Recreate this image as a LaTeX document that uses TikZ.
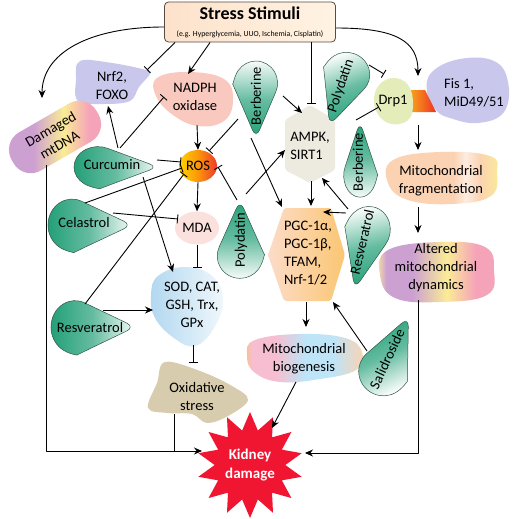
\documentclass[tikz,border=0pt]{standalone}
\usepackage{fontspec}
\setmainfont{Carlito}
\usetikzlibrary{arrows.meta,shapes.geometric,calc}

\definecolor{drug}{RGB}{36,160,120}
\definecolor{drugline}{RGB}{50,85,70}
\definecolor{lav}{RGB}{201,200,236}
\definecolor{salmon}{RGB}{249,201,191}
\definecolor{mdapink}{RGB}{251,225,222}
\definecolor{sodblue}{RGB}{178,216,240}
\definecolor{sodpale}{RGB}{240,247,252}
\definecolor{tan}{RGB}{216,204,174}
\definecolor{beige}{RGB}{237,234,224}
\definecolor{lime}{RGB}{228,237,186}
\definecolor{kidred}{RGB}{240,22,50}
\definecolor{peach}{RGB}{251,211,178}
\definecolor{fragband}{RGB}{253,236,224}
\definecolor{sunny}{RGB}{250,236,150}
\definecolor{plum}{RGB}{205,160,210}
\definecolor{rose}{RGB}{245,163,185}
\definecolor{sky}{RGB}{190,228,247}
\definecolor{blush}{RGB}{246,190,208}
\definecolor{bioedge}{RGB}{248,196,130}
\definecolor{pgcl}{RGB}{252,220,200}
\definecolor{pgcr}{RGB}{251,198,115}
\definecolor{rosy}{RGB}{255,212,0}
\definecolor{roso}{RGB}{252,150,10}
\definecolor{rosr}{RGB}{238,58,44}
\definecolor{wedgeo}{RGB}{248,165,27}
\definecolor{wedger}{RGB}{238,50,36}
\definecolor{stressl}{RGB}{253,226,203}
\definecolor{stressr}{RGB}{255,243,227}
\definecolor{stressline}{RGB}{90,75,66}

\pgfdeclarehorizontalshading{mixshade}{100bp}{color(0bp)=(sunny); color(25bp)=(sunny); color(29bp)=(plum); color(40bp)=(plum); color(54bp)=(sunny); color(66bp)=(rose); color(100bp)=(rose)}
\pgfdeclarehorizontalshading{fragshade}{100bp}{color(0bp)=(peach); color(25bp)=(peach); color(55bp)=(peach); color(60bp)=(fragband); color(66bp)=(peach); color(75bp)=(sunny); color(100bp)=(sunny)}
\pgfdeclarehorizontalshading{bioshade}{100bp}{color(0bp)=(bioedge); color(25bp)=(bioedge); color(28bp)=(blush); color(38bp)=(blush); color(50bp)=(sky); color(62bp)=(sky); color(75bp)=(peach); color(100bp)=(peach)}

\begin{document}
\begin{tikzpicture}[x=1pt, y=-1pt, line join=round,
  every node/.style={font=\fontsize{14.5}{18}\selectfont, align=center, inner sep=0pt},
  act/.style={-{Stealth[length=8pt, width=7pt]}, line width=0.9pt},
  inh/.style={-{Bar[width=9pt, line width=0.9pt]}, line width=0.9pt},
  drugfill/.style={draw=drugline, line width=0.5pt, left color=drug, right color=drug!4, middle color=drug!70},
  tear/.pic={\path[drugfill, shading angle=#1] (-38,0) arc (180:294.4:24) [rounded corners=9pt] -- (46,0) -- (-4.1,21.9) [sharp corners] arc (65.6:180:24) -- cycle;}]

\path[fill=white] (0,0) rectangle (512,519);
\useasboundingbox (0,0) rectangle (512,519);

% blobs
\fill[lav] plot[smooth cycle, tension=.6] coordinates {(80,61) (112,63) (146,70) (150,74) (139,87) (130,101) (104,104) (78,101) (76,80)};
\fill[salmon] plot[smooth cycle, tension=.7] coordinates {(157,78) (188,72) (224,79) (233,100) (224,121) (198,126) (173,115) (156,96)};
\shade[left color=sodblue, right color=sodpale] plot[smooth cycle, tension=.7] coordinates {(158,276) (185,267) (212,276) (223,300) (214,328) (195,346) (174,338) (155,318) (151,295)};
\fill[tan] plot[smooth cycle, tension=.6] coordinates {(165,362) (200,371) (232,386) (248,400) (228,416) (207,423) (192,414) (168,413) (148,408) (157,383)};
\shade[shading=bioshade] plot[smooth cycle, tension=.7] coordinates {(255,340) (300,334) (345,338) (362,352) (356,370) (320,379) (280,382) (254,372) (247,355)};
\fill[beige, rounded corners=2pt] (310,105) -- (335,120) -- (335,170) -- (310,183) -- (285,170) -- (285,120) -- cycle;
\shade[left color=pgcl, right color=pgcr, rounded corners=2pt] (284,208) -- (331,208) -- (345,255) -- (331,301) -- (284,301) -- (268,255) -- cycle;
\fill[lav] plot[smooth cycle, tension=.7] coordinates {(432,72) (460,59) (494,61) (508,82) (504,112) (478,123) (450,118) (436,110) (427,92)};
\shade[left color=wedgeo, right color=wedger] (410,90) -- (425,90) -- (436,112) -- (410,112) -- cycle;
\fill[lime] plot[smooth cycle, tension=.7] coordinates {(377,88) (392,78) (408,85) (413,105) (407,121) (388,123) (375,108)};
\shade[shading=fragshade] plot[smooth cycle, tension=.7] coordinates {(393,160) (440,152) (490,156) (497,172) (491,196) (452,204) (408,200) (388,183)};
\shade[shading=mixshade] plot[smooth cycle, tension=.7] coordinates {(388,250) (440,242) (485,247) (494,270) (487,295) (440,302) (395,298) (380,275)};

% drugs
\pic[yscale=.85] at (112,167) {tear=90};
\pic[yscale=1.08] at (86,225) {tear=90};
\pic[yscale=1.1] at (89,327) {tear=90};
\pic[rotate=-90, xscale=.92, yscale=.9] at (256,96) {tear=180};
\pic[rotate=90, xscale=.93, yscale=.95] at (240,243) {tear=0};
\pic[rotate=90, xscale=.9, yscale=.68] at (360,163) {tear=0};
\pic[rotate=-109, xscale=.9, yscale=.95] at (343,86) {tear=199};
\pic[rotate=-103, yscale=.92] at (365,244) {tear=193};
\pic[rotate=65, yscale=1.02] at (389,359) {tear=25};

\node (curc) at (112,165) {Curcumin};
\node (cel) at (84,223) {Celastrol};
\node (resl) at (90,328) {Resveratrol};
\node[rotate=90] (berl) at (256,96) {Berberine};
\node[rotate=90] (polm) at (241,240) {Polydatin};
\node[rotate=90] (berr) at (358,162) {Berberine};
\node[rotate=71] (polt) at (341,86) {Polydatin};
\node[rotate=77] (resr) at (362,242) {Resveratrol};
\node[rotate=65] (sal) at (387,359) {Salidroside};

% main nodes
\node[draw=stressline, line width=0.8pt, rounded corners=4pt, minimum width=171pt, minimum height=40pt, left color=stressl, right color=stressr] (stress) at (250,22) {{\fontsize{18}{20}\selectfont\bfseries Stress Stimuli}\\[-1pt]{\fontsize{7.8}{9}\selectfont (e.g. Hyperglycemia, UUO, Ischemia, Cisplatin)}};
\node[rotate=30, rounded corners=20pt, minimum width=98pt, minimum height=44pt, shade, shading=mixshade] (mtdna) at (55,137) {Damaged\\mtDNA};
\node[ellipse, minimum width=38pt, minimum height=32pt, left color=rosy, right color=rosr, middle color=roso] (ros) at (198,166) {ROS};
\node[ellipse, fill=mdapink, minimum width=44pt, minimum height=33pt] (mda) at (197,228) {MDA};
\node (nrf) at (112,86) {Nrf2,\\FOXO};
\node (nadph) at (195,97) {NADPH\\oxidase};
\node (sod) at (192,305) {SOD, CAT,\\GSH, Trx,\\GPx};
\node (ox) at (197,397) {Oxidative\\stress};
\node[star, star points=14, star point ratio=1.5, minimum size=106pt, fill=kidred, text=white, font=\fontsize{15}{19}\selectfont\bfseries] (kid) at (250,465) {Kidney\\damage};
\node (bio) at (304,359) {Mitochondrial\\biogenesis};
\node[align=left] (pgc) at (308,253) {PGC-1α,\\PGC-1β,\\TFAM,\\Nrf-1/2};
\node[align=left] (ampk) at (310,146) {AMPK,\\SIRT1};
\node (drp) at (393,101) {Drp1};
\node[align=left] (fis) at (474,93) {Fis 1,\\MiD49/51};
\node (frag) at (441,181) {Mitochondrial\\fragmentation};
\node (alt) at (436,268) {Altered\\mitochondrial\\dynamics};

% connectors
\draw[act] ($(stress.west)+(0,5)$) .. controls +(-75,0) and +(0,-45) .. ($(mtdna)+(-13,-39)$);
\draw[inh] ($(stress.south west)+(11,0)$) -- ($(nrf)+(35,-16)$);
\draw[act] ($(stress.south west)+(46,0)$) -- ($(nadph)+(-7,-23)$);
\draw[inh] ($(stress.south)+(61,0)$) -- ($(ampk)+(1,-42)$);
\draw[act] ($(stress.east)+(0,6)$) .. controls +(60,0) and +(0,-35) .. ($(drp)+(25,-25)$);
\draw[act] ($(nadph)+(2,28)$) -- (ros.north);
\draw[act] ($(curc)+(6,-17)$) -- ($(nrf)+(-4,20)$);
\draw[inh] ($(curc)+(8,-17)$) -- ($(nadph)+(-31,0)$);
\draw[inh] ($(curc)+(45,-5)$) -- ($(ros)+(-17,-4)$);
\draw[inh] ($(cel)+(1,-20)$) -- ($(ros)+(-16,2)$);
\draw[inh] ($(resl)+(-5,-24)$) -- ($(ros)+(-14,8)$);
\draw[act] ($(curc)+(31,12)$) -- ($(sod)+(-19,-33)$);
\draw[inh] ($(cel)+(29,-10)$) -- ($(mda)+(-19,-9)$);
\draw[act] ($(resl)+(13,-18)$) -- ($(sod)+(-39,5)$);
\draw[act] (ros.south) -- (mda.north);
\draw[inh] (mda.south) -- ($(sod)+(5,-37)$);
\draw[inh] ($(sod)+(1,40)$) -- ($(ox)+(-4,-34)$);
\draw[inh] ($(berl)+(-18,23)$) -- ($(ros)+(11,-15)$);
\draw[inh] ($(polm)+(-4,-40)$) -- ($(ros)+(20,1)$);
\draw[act] ($(polm)+(5,-46)$) -- ($(ampk)+(-25,4)$);
\draw[act] ($(berl)+(27,0)$) -- ($(ampk)+(-8,-33)$);
\draw[act] ($(berl)+(-5,42)$) -- ($(pgc)+(-26,-46)$);
\draw[act] ($(ampk)+(1,35)$) -- ($(pgc)+(3,-47)$);
\draw[act] ($(resr)+(-14,-33)$) -- ($(ampk)+(12,32)$);
\draw[act] ($(resr)+(-16,-29)$) -- ($(pgc)+(15,-41)$);
\draw[inh] ($(berr)+(-2,-42)$) -- ($(drp)+(-14,6)$);
\draw[inh] ($(polt)+(28,-21)$) -- ($(drp)+(-9,-27)$);
\draw[act] ($(drp)+(25,24)$) -- ($(frag)+(-23,-31)$);
\draw[act] ($(frag)+(-23,26)$) -- ($(alt)+(-18,-35)$);
\draw[act] ($(alt)+(-18,32)$) |- ($(kid)+(55,-12)$);
\draw[act] ($(mtdna)+(-9,28)$) |- ($(kid)+(-48,-14)$);
\draw[line width=0.9pt] ($(ox)+(-23,17)$) -- ($(kid)+(-76,-14)$);
\draw[act] ($(bio)+(-8,23)$) -- ($(kid)+(22,-37)$);
\draw[act] ($(pgc)+(-2,49)$) -- ($(bio)+(2,-32)$);
\draw[act] ($(sal)+(-20,-8)$) -- ($(pgc)+(25,49)$);
\end{tikzpicture}
\end{document}
